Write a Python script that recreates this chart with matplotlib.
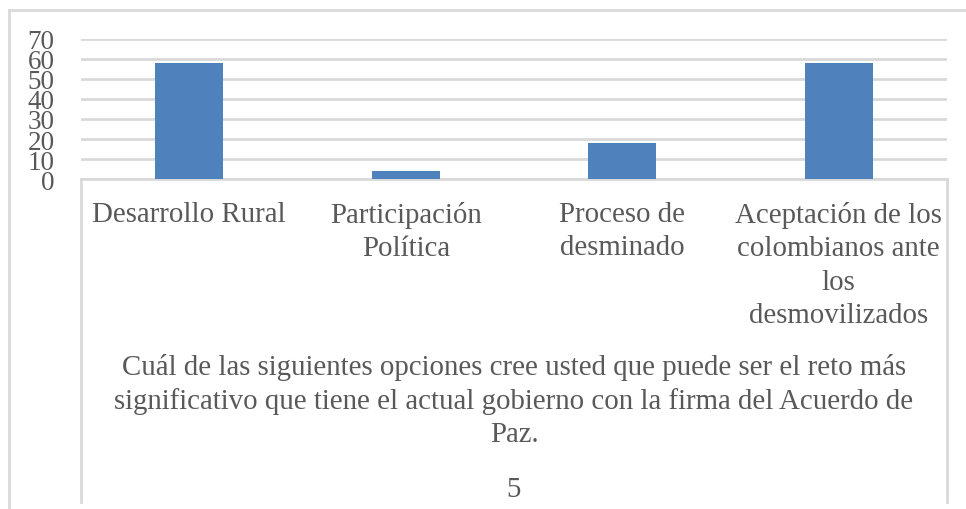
import matplotlib
matplotlib.use("Agg")
import matplotlib.pyplot as plt
from matplotlib.lines import Line2D

categories = ["Desarrollo Rural", "Participación\nPolítica", "Proceso de\ndesminado",
              "Aceptación de los\ncolombianos ante\nlos\ndesmovilizados"]
values = [58, 4, 18, 58]
yticks = [0, 10, 20, 30, 40, 50, 60, 70]
title_text = ("Cuál de las siguientes opciones cree usted que puede ser el reto más\n"
              "significativo que tiene el actual gobierno con la firma del Acuerdo de\n"
              "Paz.")
page_number = "5"

W, H = 966, 510
DPI = 100
TEXT = "#595959"
GRID = "#d9d9d9"
BAR = "#4f81bd"
FONT = "Liberation Serif"
FS = 20.8
LS = 1.36

fig = plt.figure(figsize=(W / DPI, H / DPI), dpi=DPI)
fig.patch.set_facecolor("white")

def fx(px):
    return px / W

def fy(py):
    return 1 - py / H

left, right, top, bottom = 81, 947, 40, 180
ax = fig.add_axes([fx(left), fy(bottom), fx(right) - fx(left), fy(top) - fy(bottom)])

x = list(range(len(categories)))
ax.bar(x, values, width=0.314, color=BAR, zorder=3)
ax.set_xlim(-0.5, len(categories) - 0.5)
ax.set_ylim(0, 70)
ax.set_yticks(yticks)
ax.set_yticklabels([str(t) for t in yticks], fontfamily=FONT, fontsize=19.5, color=TEXT)
ax.yaxis.grid(True, color=GRID, linewidth=2, zorder=0)
ax.set_axisbelow(True)
for s in ["top", "right", "left"]:
    ax.spines[s].set_visible(False)
ax.spines["bottom"].set_color(GRID)
ax.spines["bottom"].set_linewidth(2)
ax.tick_params(axis="y", length=0, pad=19)
ax.tick_params(axis="x", length=0, pad=16)
ax.set_xticks(x)
ax.set_xticklabels(categories, fontfamily=FONT, fontsize=FS, color=TEXT, linespacing=LS)

# boxed category area lines
for px in (left, right):
    fig.add_artist(Line2D([fx(px), fx(px)], [fy(bottom), fy(503)], color=GRID, linewidth=2))

# outer border
fig.add_artist(Line2D([fx(9), fx(9)], [fy(11), fy(510)], color=GRID, linewidth=2))
fig.add_artist(Line2D([fx(9), fx(966)], [fy(11), fy(11)], color=GRID, linewidth=2))

cx = fx((left + right) / 2)
fig.text(cx, fy(401), title_text, ha="center", va="center", fontfamily=FONT,
         fontsize=FS, color=TEXT, linespacing=LS)
fig.text(cx, fy(490), page_number, ha="center", va="center", fontfamily=FONT,
         fontsize=FS, color=TEXT)

fig.savefig("out.png", dpi=DPI)
